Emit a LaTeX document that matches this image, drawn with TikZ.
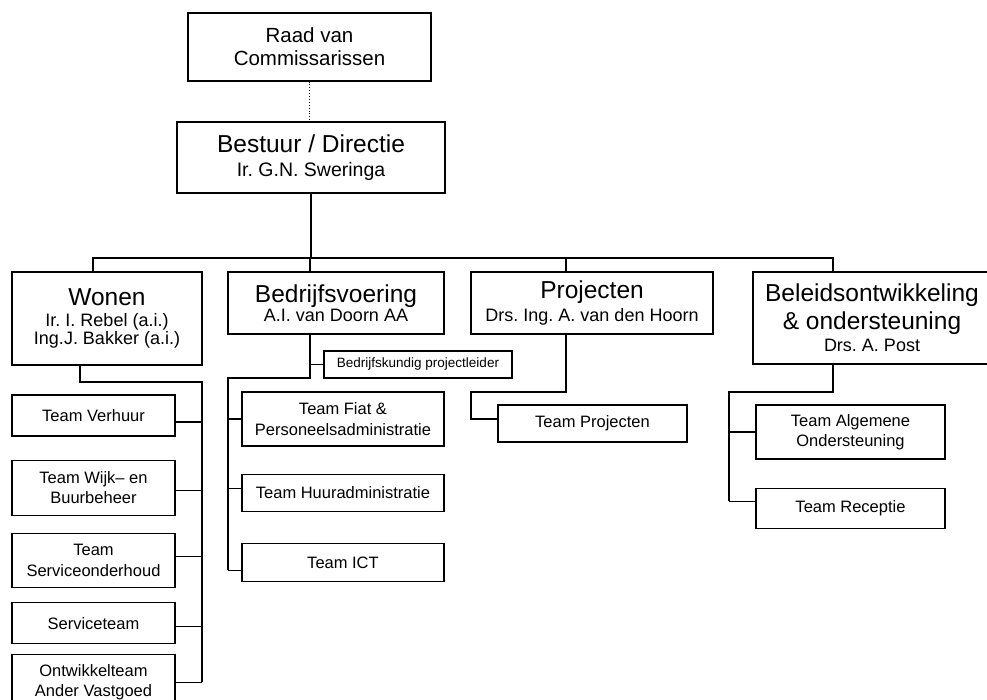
\documentclass[tikz,border=0pt]{standalone}
\usepackage{fontspec}
\setmainfont{Liberation Sans}
\usetikzlibrary{positioning}
\frenchspacing
\newcommand{\ttlfont}{\fontsize{24.5}{28}\selectfont}
\newcommand{\subfnt}{\fontsize{18}{18}\selectfont}

\begin{document}
\begin{tikzpicture}[
        x=1pt, y=-1pt,
        head/.style={rectangle, draw, line width=1.2pt, align=center, inner sep=0pt, font=\subfnt},
        team/.style={rectangle, draw, line width=1.2pt, align=center, inner sep=0pt, font=\fontsize{16.5}{20.5}\selectfont},
        line/.style={line width=1.2pt}
    ]
        \useasboundingbox (0,0) rectangle (987,700);
        \clip (0,0) rectangle (987,700);

        % Top
        \node[head, minimum width=243pt, minimum height=68pt, font=\fontsize{20.5}{23}\selectfont] (raad) at (309.5,47) {Raad van\\Commissarissen};
        \node[head, minimum width=268pt, minimum height=71pt, font=\fontsize{19.5}{24}\selectfont] (bestuur) at (311,157.5) {{\ttlfont Bestuur / Directie}\\Ir. G.N. Sweringa};

        % Departments
        \node[head, minimum width=190pt, minimum height=93pt] (wonen) at (107,318.5) {{\ttlfont Wonen}\\[3pt]Ir. I. Rebel (a.i.)\\Ing.J. Bakker (a.i.)};
        \node[head, minimum width=216pt, minimum height=62pt] (bedrijf) at (336,303) {{\ttlfont Bedrijfsvoering}\\[1pt]A.I. van Doorn AA};
        \node[head, minimum width=242pt, minimum height=62pt] (proj) at (592,303) {{\ttlfont Projecten}\\[3pt]Drs. Ing. A. van den Hoorn};
        \node[head, minimum width=238pt, minimum height=92pt, font=\ttlfont] (beleid) at (872,318) {Beleidsontwikkeling\\\&~ondersteuning\\[-6pt]{\subfnt Drs. A. Post}};

        % Teams Wonen
        \node[team, minimum width=163pt, minimum height=41pt] (tv) at (93.5,415.5) {Team Verhuur};
        \node[team, minimum width=163pt, minimum height=55pt, below=23pt of tv] (tw) {Team Wijk-- en\\Buurbeheer};
        \node[team, minimum width=163pt, minimum height=54pt, below=17pt of tw] (ts) {Team\\Serviceonderhoud};
        \node[team, minimum width=163pt, minimum height=41pt, below=14pt of ts] (tst) {Serviceteam};
        \node[team, minimum width=163pt, minimum height=55pt, below=10pt of tst] (to) {Ontwikkelteam\\Ander Vastgoed};

        % Teams Bedrijfsvoering
        \node[team, minimum width=188pt, minimum height=27pt, font=\fontsize{13.5}{15}\selectfont] (pl) at (418,364.5) {Bedrijfskundig projectleider};
        \node[team, minimum width=202pt, minimum height=54pt] (tf) at (343,419) {Team Fiat \&\\Personeelsadministratie};
        \node[team, minimum width=202pt, minimum height=37pt, below=27pt of tf] (th) {Team Huuradministratie};
        \node[team, minimum width=202pt, minimum height=38pt, below=31pt of th] (ti) {Team ICT};

        % Teams Projecten
        \node[team, minimum width=189pt, minimum height=37pt] (tp) at (592.5,423.5) {Team Projecten};

        % Teams Beleid
        \node[team, minimum width=189pt, minimum height=54pt] (ta) at (850.5,432) {Team Algemene\\Ondersteuning};
        \node[team, minimum width=189pt, minimum height=40pt, below=28pt of ta] (tr) {Team Receptie};

        % Bus
        \coordinate (bw) at (93,258);
        \coordinate (bb) at (310,258);
        \coordinate (bp) at (566,258);
        \coordinate (bl) at (833,258);

        % Connections
        \draw[dotted, line width=0.9pt] (raad.south) -- (raad.south |- bestuur.north);
        \draw[line] (bestuur.south) -- (bestuur.south |- bw);
        \draw[line] (wonen.north -| bw) -- (bw) -- (bl) -- (beleid.north -| bl);
        \draw[line] (bb) -- (bedrijf.north -| bb);
        \draw[line] (bp) -- (proj.north -| bp);

        % Wonen
        \coordinate (wk) at (80,382);
        \coordinate (wr) at (202,382);
        \draw[line] (wonen.south -| wk) -- (wk) -- (wr) -- (wr |- to.east);
        \foreach \t/\d in {tv/-6.5,tw/-2.5,ts/4,tst/-3.5,to/0}
            \draw[line] ([yshift=\d pt]\t.east) -- ([yshift=\d pt]\t.east -| wr);

        % Bedrijfsvoering
        \coordinate (bk) at (310,378);
        \coordinate (bkl) at (228,378);
        \coordinate (tic) at ([yshift=-8pt]ti.west);
        \draw[line] (bedrijf.south -| bk) -- (bk) -- (bkl) -- (bkl |- tic);
        \draw[line] (pl.west -| bk) -- (pl.west);
        \foreach \t/\d in {tf/0,th/4.5,ti/-8}
            \draw[line] ([yshift=\d pt]\t.west -| bkl) -- ([yshift=\d pt]\t.west);

        % Projecten
        \coordinate (pk) at (566,392);
        \coordinate (pkl) at (471,392);
        \coordinate (tpc) at ([yshift=4.5pt]tp.west);
        \draw[line] (proj.south -| pk) -- (pk) -- (pkl) -- (pkl |- tpc) -- (tpc);

        % Beleid
        \coordinate (lk) at (833,392);
        \coordinate (lkl) at (729,392);
        \coordinate (trc) at ([yshift=7pt]tr.west);
        \draw[line] (beleid.south -| lk) -- (lk) -- (lkl) -- (lkl |- trc);
        \foreach \t/\d in {ta/0,tr/7}
            \draw[line] ([yshift=\d pt]\t.west -| lkl) -- ([yshift=\d pt]\t.west);

    \end{tikzpicture}
\end{document}
